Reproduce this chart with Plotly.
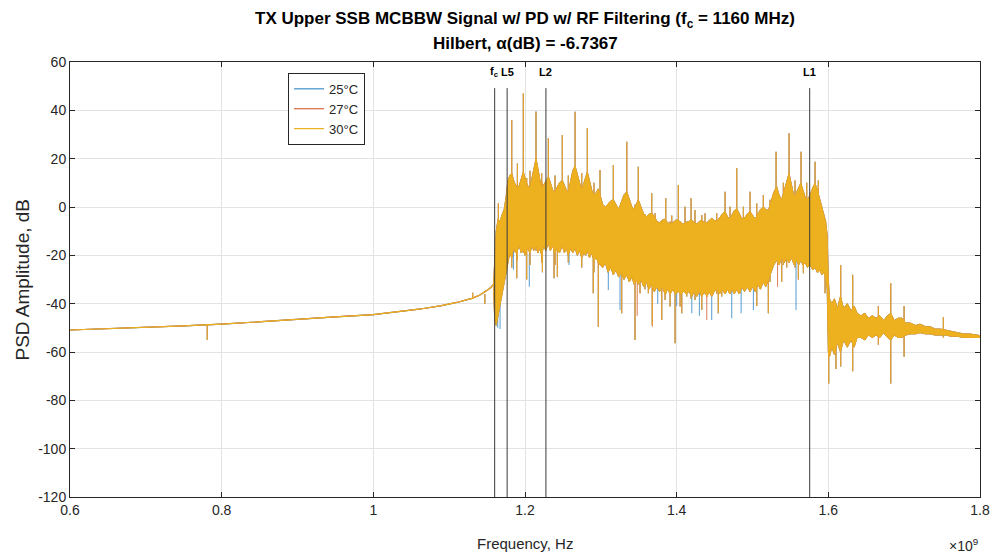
import plotly.graph_objects as go

# ---------------- data (frequencies in GHz, amplitudes in dB) ----------------
base_f = [0.60, 0.65, 0.70, 0.75, 0.80, 0.85, 0.90, 0.95, 1.00, 1.03, 1.06, 1.09,
          1.11, 1.13, 1.14, 1.15, 1.155, 1.1585]
base_db = [-50.9, -50.4, -49.9, -49.2, -48.5, -47.6, -46.5, -45.5, -44.5, -43.5, -42.3,
           -40.8, -39.5, -37.8, -36.5, -34.5, -33.3, -32.0]

band_f = [1.1585, 1.1600, 1.1620, 1.1645, 1.1670, 1.1700, 1.1725, 1.1750, 1.1775, 1.1800,
          1.1825, 1.1850, 1.1875, 1.1900, 1.1925, 1.1950, 1.1978, 1.2000, 1.2030, 1.2066,
          1.2090, 1.2115, 1.2145, 1.2170, 1.2195, 1.2220, 1.2245, 1.2275, 1.2308, 1.2335,
          1.2365, 1.2396, 1.2420, 1.2455, 1.2492, 1.2520, 1.2545, 1.2571, 1.2600, 1.2630,
          1.2660, 1.2690, 1.2720, 1.2748, 1.2775, 1.2800, 1.2822, 1.2850, 1.2880, 1.2910,
          1.2940, 1.2967, 1.2995, 1.3025, 1.3060, 1.3095, 1.3130, 1.3165, 1.3200, 1.3235,
          1.3270, 1.3305, 1.3342, 1.3375, 1.3410, 1.3440, 1.3470, 1.3494, 1.3530, 1.3565,
          1.3600, 1.3635, 1.3671, 1.3705, 1.3740, 1.3775, 1.3810, 1.3847, 1.3880, 1.3915,
          1.3950, 1.3985, 1.4022, 1.4055, 1.4090, 1.4125, 1.4160, 1.4199, 1.4230, 1.4265,
          1.4300, 1.4331, 1.4365, 1.4400, 1.4430, 1.4462, 1.4495, 1.4530, 1.4565, 1.4600,
          1.4638, 1.4670, 1.4700, 1.4730, 1.4760, 1.4792, 1.4825, 1.4860, 1.4895, 1.4930,
          1.4968, 1.5000, 1.5035, 1.5070, 1.5105, 1.5143, 1.5175, 1.5210, 1.5245, 1.5280,
          1.5319, 1.5350, 1.5385, 1.5420, 1.5450, 1.5482, 1.5515, 1.5550, 1.5580, 1.5610,
          1.5636, 1.5665, 1.5695, 1.5725, 1.5760, 1.5795, 1.5825, 1.5855, 1.5885, 1.5915,
          1.5940, 1.5965, 1.5985, 1.6000, 1.6015, 1.6045, 1.6080, 1.6120, 1.6160, 1.6200,
          1.6250, 1.6300, 1.6340, 1.6380, 1.6430, 1.6480, 1.6530, 1.6580, 1.6630, 1.6680,
          1.6730, 1.6780, 1.6823, 1.6870, 1.6920, 1.6970, 1.7020, 1.7080, 1.7150, 1.7210,
          1.7280, 1.7340, 1.7410, 1.7480, 1.7550, 1.7620, 1.7700, 1.7780, 1.7860, 1.7930,
          1.8000]
band_hi = [-32, -22, -10, -5, -6, -3, -1, 4, 11, 13,
           14, 11, 9, 7, 9, 12, 14.5, 12, 9, 8,
           12, 16, 20, 16, 11, 7, 9, 11, 12.5, 10,
           7, 6, 8, 10, 11, 9, 7, 6, 11, 15,
           17, 14, 10, 7, 10, 13, 14.5, 11, 7, 5,
           6, 7.5, 4, 1, 0, 1.5, 2.5, 3, 1, -1,
           2, 5, 6.3, 3, 0, -1, 1.5, 3, 0, -3,
           -4, -3, -2.6, -4, -6, -6.5, -5.5, -5, -6.5, -7,
           -6.5, -5.5, -5.4, -6.5, -7, -6.5, -6, -5.4, -6.5, -7,
           -6, -5.4, -6.5, -6.5, -5.5, -4.7, -5.5, -6, -4.5, -3,
           -1.9, -4, -5, -3, -1.5, -0.6, -3, -5, -4.5, -3,
           -1.9, -3.5, -5, -3, -1, 0, -1, -1.5, 2, 6,
           8.4, 5, 3, 7, 11, 13.9, 9, 4, 6, 8,
           9.8, 7, 4, 3, 5, 8, 9.8, 7, 3, -1,
           -3, -6, -12, -30, -38, -40, -38, -42, -37, -42,
           -40, -43, -41, -44, -45, -44, -46, -45, -46, -45,
           -47, -45, -44, -47, -46, -46, -48, -48, -49, -48.5,
           -49.5, -49.5, -50.5, -50.5, -51, -51.5, -52, -52.5, -52.5, -53,
           -53.2]
band_lo = [-34, -46, -49, -44, -40, -36, -31, -27, -23, -19,
           -21, -17, -19, -18, -16, -19, -17, -20, -17, -19,
           -16, -18, -16, -19, -17, -20, -16, -18, -15, -18,
           -16, -19, -17, -19, -16, -19, -17, -20, -17, -19,
           -17, -20, -18, -21, -19, -20, -18, -21, -19, -22,
           -21, -23, -24, -25, -23, -27, -25, -28, -26, -29,
           -27, -30, -28, -31, -29, -32, -30, -32, -30, -33,
           -31, -34, -32, -35, -33, -35, -33, -36, -34, -36,
           -34, -36, -35, -36, -35, -36, -35, -37, -35, -37,
           -35, -37, -35, -37, -35, -37, -35, -34, -36, -34,
           -36, -34, -36, -34, -36, -34, -36, -33, -35, -33,
           -35, -33, -35, -32, -34, -31, -33, -30, -27, -24,
           -22, -24, -21, -23, -21, -23, -21, -24, -22, -24,
           -22, -24, -23, -25, -24, -26, -25, -27, -26, -28,
           -27, -29, -34, -60, -62, -58, -61, -56, -60, -55,
           -58, -55, -58, -54, -54, -55, -53, -54, -53, -54,
           -52, -54, -55, -53, -54, -54, -53, -52.5, -52.5, -52,
           -52.5, -52.5, -53, -53, -53, -53.5, -53.5, -54, -54, -54,
           -54]

# isolated spikes shared by all three temperatures: (frequency, bottom, top)
spike_f = [0.781, 1.131, 1.147, 1.1649, 1.1825, 1.1891, 1.1978, 1.2022, 1.2145, 1.2230,
           1.2308, 1.2383, 1.2427, 1.2492, 1.2660, 1.2822, 1.2900, 1.2967, 1.2989, 1.3165,
           1.3275, 1.3342, 1.3451, 1.3494, 1.3671, 1.3679, 1.3803, 1.3856, 1.3979, 1.4022,
           1.4067, 1.4190, 1.4331, 1.4638, 1.4792, 1.4968, 1.5143, 1.5209, 1.5311, 1.5385,
           1.5482, 1.5640, 1.5825, 1.5957, 1.6005, 1.6100, 1.6163, 1.6321, 1.6484, 1.6660,
           1.6823, 1.6999, 1.7517,
           1.1900, 1.2066, 1.2220, 1.2396, 1.2571, 1.2748, 1.2910, 1.3517, 1.3583, 1.3627,
           1.3715, 1.3847, 1.3913, 1.3935, 1.4045, 1.4110, 1.4133, 1.4242, 1.4374, 1.4528,
           1.4549, 1.4594, 1.4704, 1.4836, 1.4880, 1.5056, 1.5231, 1.5407, 1.5451, 1.5561,
           1.5605, 1.5671, 1.5715, 1.5868]
spike_bot = [-55, -38, -40, -44, -25, -29.5, -19, -30, -18, -27,
             -15, -29.5, -29, -16, -17, -18, -35.7, -49.5, -24, -28,
             -44, -28, -55, -32, -32, -48.8, -46.8, -36, -56.4, -35,
             -44, -38, -42.6, -36, -34, -35, -31, -44, -22, -30.9,
             -23, -22, -25, -35.7, -73, -67, -66, -68, -55, -57,
             -73, -62, -54,
             -22, -24, -23, -24, -23, -25, -27, -35.7, -34, -35.7,
             -33, -38.5, -41.2, -34, -41.2, -35, -37, -38.5, -36, -36,
             -44, -37, -36, -35.7, -34, -41, -31, -24, -25, -25,
             -30, -27.4, -24, -27]
spike_top = [-48.5, -35.5, -36, 1.6, 36, 9, 47, 12, 39.5, 10,
             28.4, 6, 8, 29.8, 39.4, 32.6, 5, 7, 15.3, 17.4,
             2, 27, 1, 16.7, 5.7, -3, -6, 3.6, -6, 9.1,
             -7, 3.6, -3.3, 6.3, 16, 6.3, 5, -1.5, 22.9, 3,
             30.5, 22.9, 18.7, -6, -38, -40, -24, -28, -44, -41,
             -31.6, -41, -45.5,
             18, 15, 14, 13, 13, 14, 10, -2, -3, -4,
             -2.6, -5, -6, -3.5, -6, 0.1, -6, -1.2, -2.6, -2.6,
             -5, -4, 0.1, -4, 0.1, 1.5, 3, 10, 9, 11,
             5, 5, 10, 11]

# places where the 25 °C and 27 °C traces dip below the 30 °C trace
blue_dip_f = [1.1640, 1.1671, 1.1847, 1.2057, 1.2581, 1.3099, 1.3253, 1.3750, 1.4000,
              1.4199, 1.4300, 1.4462, 1.4726, 1.4850, 1.5012, 1.5574]
blue_dip_top = [-40, -40, -18, -19, -18, -25, -28, -33, -34, -36, -35, -36, -34, -34, -33, -22]
blue_dip_bot = [-50, -50.5, -26, -33, -24, -34.3, -42.6, -40, -41, -44, -45, -46.8, -46,
                -44, -42.6, -42.6]
orange_dip_f = [1.3480, 1.3679, 1.4397, 1.5330]
orange_dip_top = [-30, -33, -36, -22]
orange_dip_bot = [-45, -49.5, -46.8, -33]

series_names = ["25°C", "27°C", "30°C"]
series_colors = ["#3f8fc9", "#d9683a", "#EDB120"]

marker_f = [1.16, 1.17645, 1.22760, 1.57542]
marker_labels = ["f<sub>c</sub>", "L5", "L2", "L1"]

x_ticks = [0.6, 0.8, 1.0, 1.2, 1.4, 1.6, 1.8]
x_ticktext = ["0.6", "0.8", "1", "1.2", "1.4", "1.6", "1.8"]
y_ticks = [-120, -100, -80, -60, -40, -20, 0, 20, 40, 60]
y_ticktext = ["-120", "-100", "-80", "-60", "-40", "-20", "0", "20", "40", "60"]

# ---------------- figure ----------------
FONT = "Liberation Sans, Arial, Helvetica, sans-serif"
fig = go.Figure()

dips = {0: (blue_dip_f, blue_dip_top, blue_dip_bot),
        1: (orange_dip_f, orange_dip_top, orange_dip_bot)}

for i, (name, col) in enumerate(zip(series_names, series_colors)):
    grp = "g%d" % i
    fig.add_trace(go.Scatter(x=base_f, y=base_db, mode="lines", name=name,
                             legendgroup=grp, line=dict(color=col, width=1.2)))
    fig.add_trace(go.Scatter(x=band_f + band_f[::-1], y=band_hi + band_lo[::-1],
                             mode="lines", fill="toself", fillcolor=col,
                             line=dict(color=col, width=0.8), legendgroup=grp,
                             showlegend=False, hoverinfo="skip"))
    sx, sy = [], []
    for f, b, t in zip(spike_f, spike_bot, spike_top):
        sx += [f, f, None]
        sy += [b, t, None]
    if i in dips:
        for f, t, b in zip(*dips[i]):
            sx += [f, f, None]
            sy += [b, t, None]
    fig.add_trace(go.Scatter(x=sx, y=sy, mode="lines", line=dict(color=col, width=1.1),
                             legendgroup=grp, showlegend=False, hoverinfo="skip",
                             opacity=0.8))

for f, lab in zip(marker_f, marker_labels):
    fig.add_shape(type="line", xref="x", yref="y", x0=f, x1=f, y0=-120, y1=49.2,
                  line=dict(color="#3a3a3a", width=1))
    fig.add_annotation(x=f, y=56, xref="x", yref="y", text="<b>%s</b>" % lab,
                       showarrow=False, font=dict(family=FONT, size=11, color="#000"),
                       xanchor="center", yanchor="middle")

# titles
fig.add_annotation(x=0.5, y=1.097, xref="paper", yref="paper", showarrow=False,
                   text="<b>TX Upper SSB MCBBW Signal w/ PD w/ RF Filtering (f<sub>c</sub> = 1160 MHz)</b>",
                   font=dict(family=FONT, size=17, color="#000"), yanchor="middle")
fig.add_annotation(x=0.5, y=1.0414, xref="paper", yref="paper", showarrow=False,
                   text="<b>Hilbert, α(dB) = -6.7367</b>",
                   font=dict(family=FONT, size=17, color="#000"), yanchor="middle")
# axis titles
fig.add_annotation(x=0.5, y=-0.106, xref="paper", yref="paper", showarrow=False,
                   text="Frequency, Hz", font=dict(family=FONT, size=15, color="#262626"),
                   yanchor="middle")
fig.add_annotation(x=-0.0527, y=0.5, xref="paper", yref="paper", showarrow=False,
                   text="PSD Amplitude, dB", textangle=-90,
                   font=dict(family=FONT, size=19, color="#262626"),
                   xanchor="center", yanchor="middle")
fig.add_annotation(x=0.982, y=-0.11, xref="paper", yref="paper", showarrow=False,
                   text="×10<sup>9</sup>", font=dict(family=FONT, size=14, color="#262626"),
                   xanchor="center", yanchor="middle")

axis_common = dict(showgrid=True, gridcolor="#e3e3e3", gridwidth=1, zeroline=False,
                   showline=True, linecolor="#262626", linewidth=1, mirror="ticks",
                   ticks="inside", ticklen=5, tickcolor="#262626", automargin=False,
                   tickfont=dict(family=FONT, size=14, color="#262626"))
fig.update_xaxes(range=[0.6, 1.8], tickvals=x_ticks, ticktext=x_ticktext, **axis_common)
fig.update_yaxes(range=[-120, 60], tickvals=y_ticks, ticktext=y_ticktext, **axis_common)

fig.update_layout(
    width=994, height=554,
    margin=dict(l=70, r=14, t=62, b=57, autoexpand=False),
    paper_bgcolor="white", plot_bgcolor="white",
    showlegend=True,
    legend=dict(x=0.2396, y=0.975, xanchor="left", yanchor="top",
                bgcolor="white", bordercolor="#262626", borderwidth=1,
                font=dict(family=FONT, size=13, color="#262626"),
                itemwidth=30, tracegroupgap=0),
)

fig.write_html("out.html", config={"displayModeBar": False},
               post_script="document.body.style.margin='0';document.body.style.padding='0';")
